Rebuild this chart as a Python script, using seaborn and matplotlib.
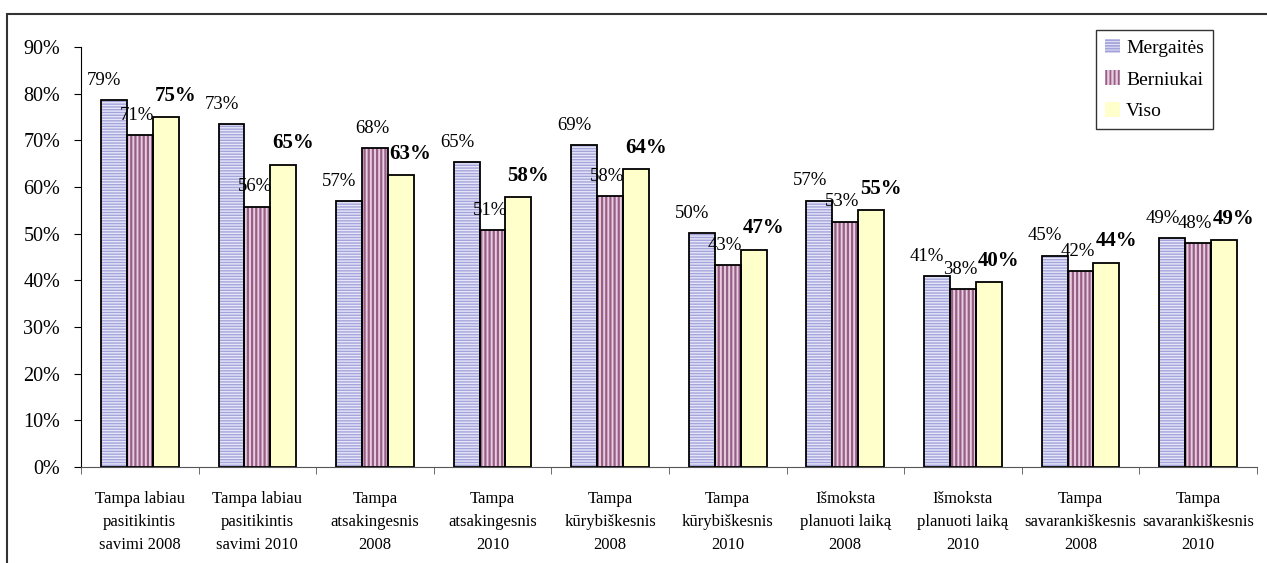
import numpy as np
import pandas as pd
import matplotlib.pyplot as plt
import seaborn as sns
from matplotlib.patches import Patch, Rectangle
from matplotlib.ticker import PercentFormatter, MultipleLocator

# categories along the x axis
categories = [
    "Tampa labiau\npasitikintis\nsavimi 2008",
    "Tampa labiau\npasitikintis\nsavimi 2010",
    "Tampa\natsakingesnis\n2008",
    "Tampa\natsakingesnis\n2010",
    "Tampa\nkūrybiškesnis\n2008",
    "Tampa\nkūrybiškesnis\n2010",
    "Išmoksta\nplanuoti laiką\n2008",
    "Išmoksta\nplanuoti laiką\n2010",
    "Tampa\nsavarankiškesnis\n2008",
    "Tampa\nsavarankiškesnis\n2010",
]
series = ["Mergaitės", "Berniukai", "Viso"]

# values (share, 0-1)
mergaites = [0.786, 0.734, 0.570, 0.653, 0.690, 0.501, 0.571, 0.409, 0.453, 0.491]
berniukai = [0.712, 0.558, 0.684, 0.508, 0.580, 0.432, 0.526, 0.382, 0.420, 0.479]
viso = [0.749, 0.648, 0.626, 0.579, 0.638, 0.466, 0.551, 0.396, 0.438, 0.486]

face_colors = ["#E6E6F8", "#E8CCE0", "#FFFFCC"]
hatch_colors = ["#A4A4DC", "#985F86", None]
hatches = ["------", "||||", ""]
hatch_lw = [1.0, 1.6, 1.0]

df = pd.DataFrame({
    "kategorija": categories * 3,
    "grupe": [s for s in series for _ in categories],
    "reiksme": mergaites + berniukai + viso,
})

plt.rcParams["font.family"] = ["Liberation Serif", "DejaVu Serif"]
plt.rcParams["hatch.linewidth"] = 1.3

fig = plt.figure(figsize=(12.67, 5.63), dpi=100)
ax = fig.add_axes([0.0639, 0.1705, 0.9281, 0.746])

sns.barplot(data=df, x="kategorija", y="reiksme", hue="grupe",
            order=categories, hue_order=series, palette=face_colors,
            width=0.66, gap=0, legend=False, ax=ax, saturation=1)

# hatch fill + black outline, then labels
offsets = [-7, -2, 7]
for i, cont in enumerate(ax.containers):
    for p, v in zip(cont.patches, [mergaites, berniukai, viso][i]):
        if hatch_colors[i]:
            p.set_hatch(hatches[i])
            p.set_edgecolor(hatch_colors[i])
            p.set_linewidth(0)
            if hasattr(p, "set_hatch_linewidth"):
                p.set_hatch_linewidth(hatch_lw[i])
        ax.add_patch(Rectangle(p.get_xy(), p.get_width(), p.get_height(),
                               fill=False, edgecolor="black", linewidth=1.3))
        cx = p.get_x() + p.get_width() / 2
        ax.annotate(f"{round(v * 100):.0f}%", (cx, v), xytext=(offsets[i], 8),
                    textcoords="offset points", ha="center", va="bottom",
                    fontsize=15 if i == 2 else 13.5,
                    fontweight="bold" if i == 2 else "normal")

ax.set_ylim(0, 0.9)
ax.set_xlim(-0.5, len(categories) - 0.5)
ax.yaxis.set_major_locator(MultipleLocator(0.1))
ax.yaxis.set_major_formatter(PercentFormatter(1.0, decimals=0))
ax.set_xticks(np.arange(len(categories)))
ax.set_xticklabels(categories, fontsize=12, linespacing=1.6)
ax.set_xticks(np.arange(len(categories) + 1) - 0.5, minor=True)
ax.tick_params(axis="x", which="major", length=0, pad=17)
ax.tick_params(axis="x", which="minor", length=5, direction="out", color="#555555")
ax.tick_params(axis="y", length=5, direction="out", labelsize=14.5, pad=10)
ax.set_xlabel("")
ax.set_ylabel("")
for s in ["top", "right"]:
    ax.spines[s].set_visible(False)
ax.spines["left"].set_color("black")
ax.spines["bottom"].set_color("#555555")

handles = []
for i in range(3):
    handles.append(Patch(facecolor=face_colors[i], hatch=hatches[i] if hatch_colors[i] else None,
                         edgecolor=hatch_colors[i] or "black", linewidth=0))
leg = fig.legend(handles, series, loc="upper right", bbox_to_anchor=(0.957, 0.947),
                 fontsize=14, frameon=True, fancybox=False, edgecolor="black",
                 handlelength=0.8, handleheight=0.8, handletextpad=0.3,
                 borderpad=0.45, labelspacing=0.7, borderaxespad=0)
leg.get_frame().set_linewidth(1.0)

# chart border
fig.add_artist(Rectangle((0.0055, -0.1), 1.2, 1.075, transform=fig.transFigure,
                         fill=False, edgecolor="#333333", linewidth=1.5, clip_on=False))

fig.savefig("out.png", dpi=100)
